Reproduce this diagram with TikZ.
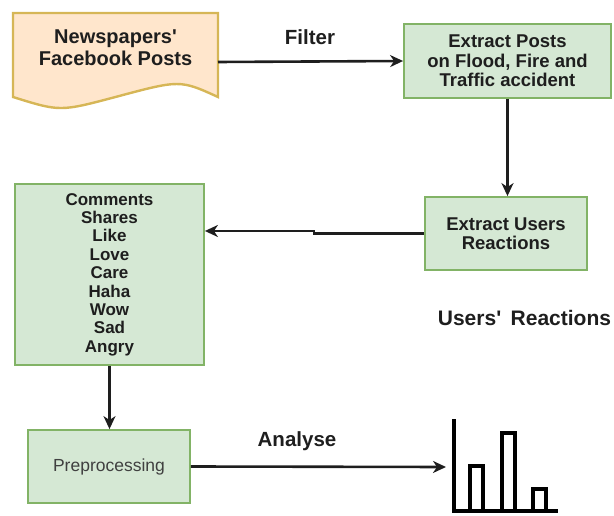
\documentclass[tikz,border=0pt]{standalone}
\usepackage{fontspec}
\setmainfont{Liberation Sans}
\usetikzlibrary{arrows.meta}
\definecolor{boxfill}{HTML}{D5E8D4}
\definecolor{boxline}{HTML}{82B366}
\definecolor{docfill}{HTML}{FFE6CC}
\definecolor{docline}{HTML}{D6B656}
\definecolor{ink}{HTML}{1E1E1E}
\newcommand{\apos}{\textquotesingle}
\tikzset{
  greenbox/.style={draw=boxline, fill=boxfill, line width=1.8pt, align=center, text=ink, inner sep=0pt},
  boldtext/.style={font=\fontsize{18.5}{19.5}\selectfont\bfseries},
  edgelabel/.style={font=\fontsize{20.5}{22}\selectfont\bfseries, text=ink},
  flow/.style={->, line width=2.6pt, draw=ink},
}
\begin{document}
\begin{tikzpicture}[x=1pt, y=-1pt, >={Stealth[length=13pt, width=12pt, inset=4pt]}]
\useasboundingbox (0,0) rectangle (614,516);
% document shape
\draw[draw=docline, fill=docfill, line width=2.4pt] (13,13) -- (218,13) -- (218,97)
  .. controls (180,79.7) .. (115.5,97) .. controls (60,111.7) .. (13,97) -- cycle;
\node[align=center, text=ink, font=\fontsize{20}{22}\selectfont\bfseries] (news) at (115.5,48) {Newspapers\apos\\Facebook Posts};
\coordinate (newsR) at (218,62);
\node[greenbox, boldtext, minimum width=207pt, minimum height=74pt] (posts) at (507.5,61) {Extract Posts\\on Flood, Fire and\\Traffic accident};
\node[greenbox, boldtext, minimum width=162pt, minimum height=73pt] (users) at (506,233.5) {Extract Users\\Reactions};
\node[greenbox, font=\fontsize{17}{18.4}\selectfont\bfseries, minimum width=189pt, minimum height=181pt] (reacts) at (109.5,274.5) {Comments\\Shares\\Like\\Love\\Care\\Haha\\Wow\\Sad\\Angry};
\node[greenbox, font=\fontsize{17.5}{19}\selectfont, text=ink!85, minimum width=162pt, minimum height=73pt] (prep) at (109,466.5) {Preprocessing};
\node[edgelabel] (filter) at (310,37) {Filter};
\node[edgelabel] (analyse) at (297,441) {Analyse};
\node[edgelabel, font=\fontsize{21}{22}\selectfont\bfseries] (title) at (524.5,318) {Users\apos\hspace{0.45em}Reactions};
\coordinate (jog) at (314,231);
\coordinate (chart) at (446,467);
\draw[flow] (newsR) -- (posts.west);
\draw[flow] (posts.south) -- (posts.south |- users.north);
\draw[flow] (users.west) -| (jog) -- (jog -| reacts.east);
\draw[flow] (reacts.south) -- (reacts.south |- prep.north);
\draw[flow] (prep.east) -- (chart);
% bar chart
\draw[line width=4pt, draw=black] (454,419) -- (454,511) -- (558,511);
\draw[line width=4pt, draw=black] (470,511) rectangle (483,466);
\draw[line width=4pt, draw=black] (502,511) rectangle (515,433);
\draw[line width=4pt, draw=black] (533,511) rectangle (546,489);
\end{tikzpicture}
\end{document}
